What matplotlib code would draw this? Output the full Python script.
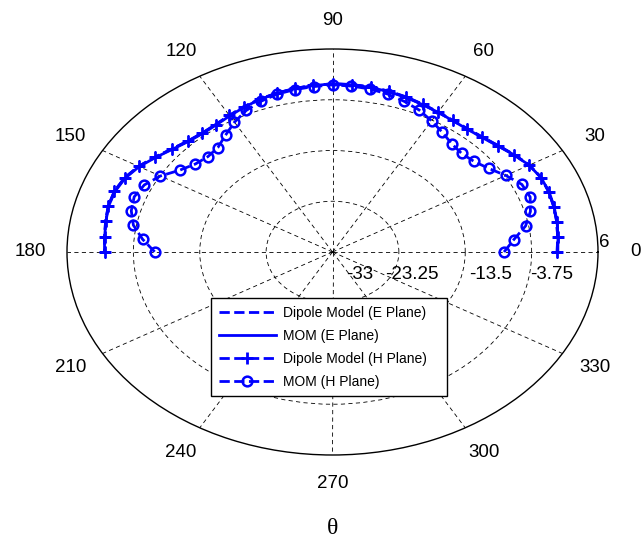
import numpy as np
import matplotlib.pyplot as plt

plt.rcParams['font.family'] = ['Liberation Sans', 'DejaVu Sans']

# sample angles (degrees) and pattern values (dB)
theta_deg = np.arange(0, 181, 5)

dipole_e = [0.0, 0.2, 0.45, 0.65, 0.8, 0.8, 0.4, -0.4, -1.2, -1.8,
            -2.1, -2.15, -2.0, -1.7, -1.35, -1.05, -0.85, -0.7, -0.7,
            -0.85, -1.1, -1.4, -1.75, -2.2, -2.7, -3.1, -3.2, -2.9, -2.2,
            -1.2, -0.1, 0.7, 1.1, 1.1, 0.85, 0.6, 0.45]
mom_e = [0.1, 0.25, 0.5, 0.7, 0.85, 0.8, 0.35, -0.45, -1.3, -1.9,
         -2.2, -2.2, -2.0, -1.75, -1.4, -1.1, -0.9, -0.75, -0.7,
         -0.9, -1.15, -1.45, -1.8, -2.3, -2.8, -3.2, -3.3, -3.0, -2.3,
         -1.3, -0.2, 0.6, 1.0, 1.05, 0.8, 0.6, 0.5]
dipole_h = [0.0, 0.2, 0.45, 0.65, 0.8, 0.85, 0.35, -0.45, -1.25, -1.85,
            -2.15, -2.15, -1.95, -1.65, -1.3, -1.0, -0.8, -0.7, -0.7,
            -0.85, -1.1, -1.4, -1.75, -2.2, -2.7, -3.1, -3.2, -2.9, -2.2,
            -1.2, -0.1, 0.7, 1.1, 1.1, 0.85, 0.6, 0.45]
mom_h = [-7.8, -6.3, -4.2, -2.9, -2.1, -2.3, -3.6, -5.0, -5.9, -6.2,
         -5.8, -4.9, -3.9, -2.9, -2.2, -1.6, -1.2, -1.0, -0.9,
         -1.1, -1.3, -1.6, -2.2, -3.0, -4.2, -5.6, -6.8, -7.1, -6.7,
         -5.6, -3.8, -2.5, -2.0, -2.4, -3.3, -5.0, -6.9]

r_ticks = [-33, -23.25, -13.5, -3.75, 6]
angle_ticks = list(range(0, 360, 30))

fig = plt.figure(figsize=(6.41, 5.42), dpi=100)
ax = fig.add_axes([67 / 641, 87 / 542, 531 / 641, 406 / 542], projection='polar')
ax.set_aspect('auto')  # MATLAB-style stretched (elliptical) polar plot
ax.set_ylim(r_ticks[0], r_ticks[-1])
ax.set_yticks(r_ticks[1:-1])
ax.set_xticks(np.deg2rad(angle_ticks))
ax.set_yticklabels([])
ax.set_xticklabels([])
ax.tick_params(length=0)
ax.grid(True, color='k', linestyle=(0, (5, 4)), linewidth=0.6)
ax.spines['polar'].set_linewidth(1.0)

th = np.deg2rad(theta_deg)
ax.plot(th, dipole_e, color='b', ls='--', lw=2, label='Dipole Model (E Plane)', zorder=3)
ax.plot(th, mom_e, color='b', ls='-', lw=2, label='MOM (E Plane)', zorder=3)
ax.plot(th, dipole_h, color='b', ls='--', lw=2, marker='+', ms=8, mew=2,
        label='Dipole Model (H Plane)', zorder=4)
ax.plot(th, mom_h, color='b', ls='--', lw=2, marker='o', ms=7, mew=1.8, mfc='none',
        label='MOM (H Plane)', zorder=4)

# angle labels, a bit outside the outer ring
label_r = r_ticks[0] + 1.14 * (r_ticks[-1] - r_ticks[0])
for a in angle_ticks:
    ax.text(np.deg2rad(a), label_r, str(a), ha='center', va='center', fontsize=13.5)

# radial labels (placed like MATLAB does, just under the 0 deg spoke)
r_label_pos = [(0.5518, 0.4458), (0.6497, 0.4458), (0.7985, 0.4458),
               (0.9134, 0.4458), (1.0113, 0.5222)]
for val, (x, y) in zip(r_ticks, r_label_pos):
    ax.text(x, y, '%g' % val, transform=ax.transAxes, ha='center', va='center',
            fontsize=13.5)

leg = fig.legend(loc='upper left', bbox_to_anchor=(211 / 641, 147 / 542, 236 / 641, 97 / 542),
                 mode='expand', fontsize=10, handlelength=4.1, handletextpad=0.5,
                 labelspacing=0.65, borderpad=0.55, borderaxespad=0, fancybox=False,
                 edgecolor='k', framealpha=1)
leg.get_frame().set_linewidth(1.0)

fig.text(333 / 641, 1 - 528 / 542, 'θ', family=['Liberation Serif', 'DejaVu Serif'],
         fontsize=17, ha='center', va='center')

fig.savefig('out.png', dpi=100)
